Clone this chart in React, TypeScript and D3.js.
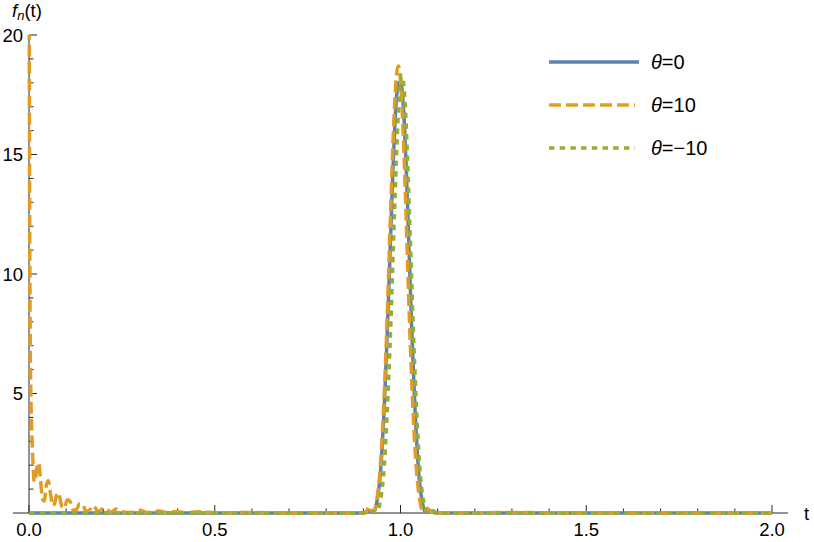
import React from "react";
import * as d3 from "d3";

// ---- data ----
const seriesNames = ["θ=0", "θ=10", "θ=−10"];
const seriesColors = ["#5E81B5", "#E19C24", "#8FB032"];
const seriesDash = ["", "12,5", "5.5,5.2"];

const blueT = [0, 0.9, 0.918, 0.925, 0.93, 0.935, 0.94, 0.945, 0.95, 0.955, 0.96, 0.965, 0.97, 0.975, 0.98, 0.985, 0.99, 0.995, 1.0, 1.005, 1.01, 1.015, 1.02, 1.025, 1.03, 1.035, 1.04, 1.045, 1.05, 1.055, 1.06, 1.065, 1.07, 1.078, 1.09, 1.1, 2.0];
const blueV = [0, 0, 0.1, 0.02, 0.08, 0.35, 0.8, 1.5, 2.6, 4.0, 5.8, 7.8, 10.0, 12.3, 14.5, 16.3, 17.5, 18.0, 18.0, 17.6, 16.4, 14.6, 12.4, 10.1, 7.8, 5.8, 4.0, 2.6, 1.5, 0.8, 0.35, 0.08, 0.02, 0.1, 0.02, 0, 0];

const orangeT = [0, 0.0015, 0.003, 0.005, 0.008, 0.011, 0.014, 0.018, 0.022, 0.026, 0.031, 0.036, 0.041, 0.047, 0.052, 0.058, 0.064, 0.07, 0.076, 0.082, 0.089, 0.095, 0.103, 0.11, 0.118, 0.126, 0.137, 0.145, 0.153, 0.162, 0.17, 0.178, 0.187, 0.2, 0.21, 0.22, 0.235, 0.25, 0.27, 0.3, 0.32, 0.35, 0.37, 0.4, 0.42, 0.46, 0.5, 0.6, 0.7, 0.9, 0.908, 0.916, 0.924, 0.929, 0.934, 0.939, 0.944, 0.949, 0.954, 0.959, 0.964, 0.969, 0.974, 0.979, 0.984, 0.989, 0.994, 0.999, 1.004, 1.009, 1.014, 1.019, 1.024, 1.029, 1.034, 1.039, 1.044, 1.049, 1.054, 1.059, 1.064, 1.072, 1.082, 1.1, 1.3, 1.5, 2.0];
const orangeV = [26, 14, 8, 5, 3.2, 2.0, 1.3, 1.5, 2.0, 2.1, 1.4, 0.6, 0.5, 1.2, 1.35, 0.8, 0.3, 0.45, 0.85, 0.7, 0.25, 0.2, 0.55, 0.5, 0.15, 0.12, 0.4, 0.35, 0.08, 0.1, 0.3, 0.22, 0.05, 0.2, 0.15, 0.03, 0.17, 0.05, 0.02, 0.1, 0.02, 0.08, 0.02, 0.06, 0.01, 0.05, 0.01, 0.02, 0, 0, 0.05, 0.28, 0.04, 0.08, 0.35, 0.85, 1.6, 2.7, 4.2, 6.0, 8.1, 10.5, 12.9, 15.2, 17.0, 18.3, 18.7, 18.3, 17.0, 15.2, 12.9, 10.5, 8.1, 6.0, 4.2, 2.7, 1.6, 0.85, 0.35, 0.08, 0.02, 0.2, 0.05, 0, 0.02, 0, 0];

const greenT = [0, 0.9, 0.922, 0.934, 0.939, 0.944, 0.949, 0.954, 0.959, 0.964, 0.969, 0.974, 0.979, 0.984, 0.989, 0.994, 0.999, 1.004, 1.009, 1.014, 1.019, 1.024, 1.029, 1.034, 1.039, 1.044, 1.049, 1.054, 1.059, 1.064, 1.069, 1.074, 1.084, 1.1, 2.0];
const greenV = [0, 0, 0.08, 0.02, 0.08, 0.35, 0.8, 1.5, 2.6, 4.1, 5.9, 7.9, 10.3, 12.6, 14.8, 16.7, 17.9, 18.3, 17.9, 16.7, 14.8, 12.6, 10.3, 7.9, 5.9, 4.1, 2.6, 1.5, 0.8, 0.35, 0.08, 0.02, 0.12, 0, 0];

const xMajorTicks = [0, 0.5, 1.0, 1.5, 2.0];
const yMajorTicks = [5, 10, 15, 20];

const W = 814;
const H = 542;

export default function App() {
  const x = d3.scaleLinear().domain([0, 2]).range([29, 772]);
  const y = d3.scaleLinear().domain([0, 20]).range([513, 35]);

  const series = [
    { t: blueT, v: blueV },
    { t: orangeT, v: orangeV },
    { t: greenT, v: greenV },
  ];

  const line = d3
    .line<[number, number]>()
    .x((d) => x(d[0]))
    .y((d) => y(d[1]))
    .curve(d3.curveMonotoneX);

  const xMinor = d3.range(0, 21).map((i) => i / 10).filter((v) => Math.abs(v * 2 - Math.round(v * 2)) > 1e-6);
  const yMinor = d3.range(1, 21).filter((v) => v % 5 !== 0);

  const axisColor = "#262626";
  const font = "'Liberation Sans', Arial, sans-serif";

  return (
    <svg width={W} height={H} style={{ position: "absolute", left: 0, top: 0, background: "#fff" }} fontFamily={font}>
      <defs>
        <clipPath id="plotclip">
          <rect x={15} y={y(20)} width={775} height={y(0) - y(20) + 10} />
        </clipPath>
      </defs>
      {/* axes */}
      <line x1={13} x2={788} y1={y(0)} y2={y(0)} stroke={axisColor} strokeWidth={1} />
      <line x1={x(0)} x2={x(0)} y1={y(0)} y2={y(20)} stroke={axisColor} strokeWidth={1} />
      {/* x ticks */}
      {xMajorTicks.map((t) => (
        <g key={"xM" + t}>
          <line x1={x(t)} x2={x(t)} y1={y(0)} y2={y(0) - 8} stroke={axisColor} strokeWidth={1} />
          <text x={x(t)} y={536} textAnchor="middle" fontSize={18.5} fill="#000">
            {t.toFixed(1)}
          </text>
        </g>
      ))}
      {xMinor.map((t) => (
        <line key={"xm" + t} x1={x(t)} x2={x(t)} y1={y(0)} y2={y(0) - 4.5} stroke={axisColor} strokeWidth={1} />
      ))}
      {/* y ticks */}
      {yMajorTicks.map((v) => (
        <g key={"yM" + v}>
          <line x1={x(0)} x2={x(0) + 8} y1={y(v)} y2={y(v)} stroke={axisColor} strokeWidth={1} />
          <text x={23} y={y(v)} dy="0.36em" textAnchor="end" fontSize={18.5} fill="#000">
            {v}
          </text>
        </g>
      ))}
      {yMinor.map((v) => (
        <line key={"ym" + v} x1={x(0)} x2={x(0) + 4.5} y1={y(v)} y2={y(v)} stroke={axisColor} strokeWidth={1} />
      ))}
      {/* axis labels */}
      <text x={804} y={520} fontSize={18.5} fill="#000">t</text>
      <text x={12} y={17} fontSize={18.5} fill="#000">
        <tspan fontStyle="italic">f</tspan>
        <tspan fontStyle="italic" fontSize={13} dy={3}>n</tspan>
        <tspan dy={-3}>(t)</tspan>
      </text>
      {/* curves */}
      <g clipPath="url(#plotclip)">
        {series.map((s, i) => (
          <path
            key={"s" + i}
            d={line(s.t.map((t, j) => [t, s.v[j]] as [number, number])) || ""}
            fill="none"
            stroke={seriesColors[i]}
            strokeWidth={3.5}
            strokeDasharray={seriesDash[i] || undefined}
            strokeLinejoin="round"
          />
        ))}
      </g>
      {/* legend */}
      {seriesNames.map((name, i) => {
        const ly = 62 + i * 43;
        return (
          <g key={"lg" + i}>
            <line
              x1={549}
              x2={i === 0 ? 639 : 635}
              y1={ly}
              y2={ly}
              stroke={seriesColors[i]}
              strokeWidth={3.5}
              strokeDasharray={seriesDash[i] || undefined}
            />
            <text x={651} y={ly} dy="0.36em" fontSize={20} fill="#000">
              <tspan fontStyle="italic">θ</tspan>
              <tspan>{name.slice(1)}</tspan>
            </text>
          </g>
        );
      })}
    </svg>
  );
}
